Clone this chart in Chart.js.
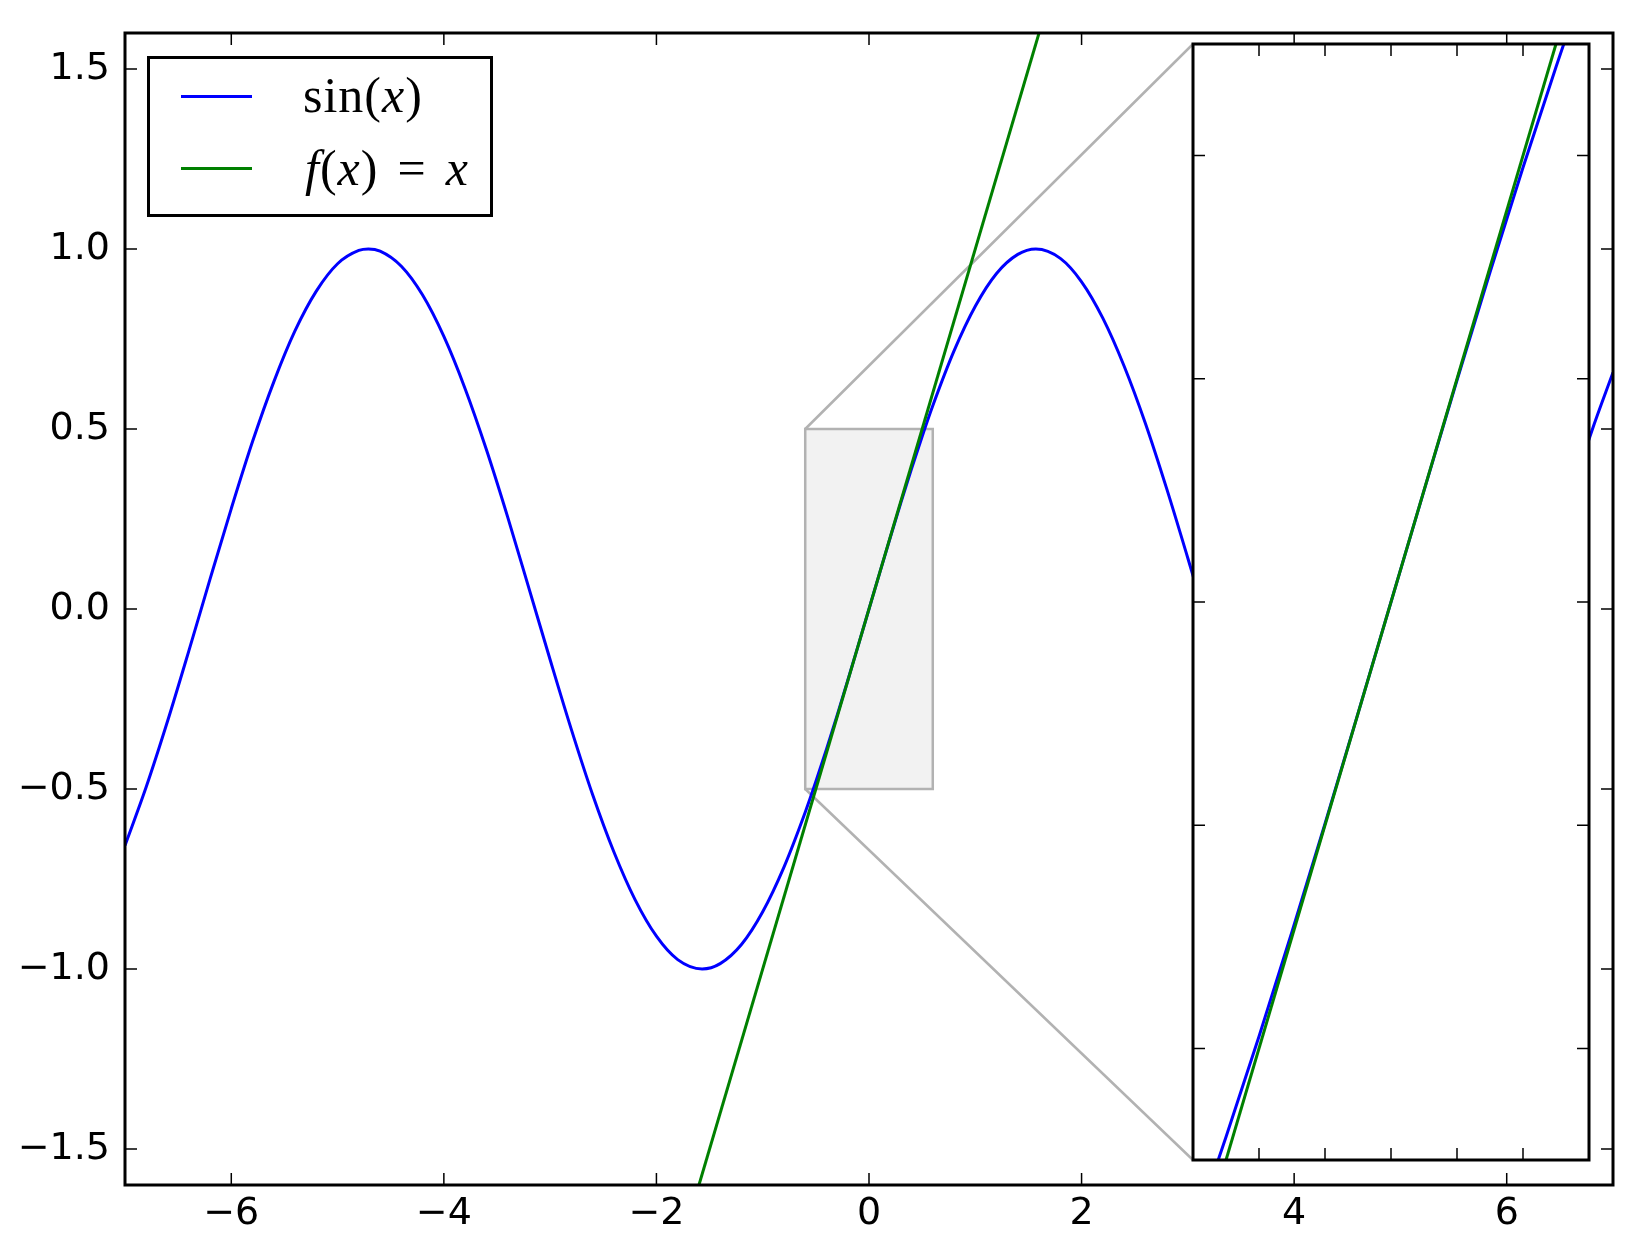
<!DOCTYPE html>
<html>
<head>
<meta charset="utf-8">
<script src="https://cdn.jsdelivr.net/npm/chart.js@4.4.1/dist/chart.umd.min.js"></script>
<style>
  body { margin: 0; background: #fff; }
  #wrap { position: relative; width: 1648px; height: 1240px; }
  #mainChart { position: absolute; left: 0; top: 0; }
  #insetChart { position: absolute; left: 1191px; top: 42px; }
  #legend {
    position: absolute; left: 147px; top: 56px; width: 346px; height: 161px;
    box-sizing: border-box; border: 3px solid #000; background: #fff;
  }
  .key { position: absolute; left: 31px; width: 71px; height: 3px; }
  .lbl {
    position: absolute; font-family: "Liberation Serif", serif; font-size: 50px;
    line-height: 50px; letter-spacing: 1px; white-space: nowrap; color: #000;
  }
  .eq { margin: 0 19px; }
</style>
</head>
<body>
<div id="wrap">
  <canvas id="mainChart" width="1648" height="1240"></canvas>
  <canvas id="insetChart" width="400" height="1120"></canvas>
  <div id="legend">
    <div class="key" style="top:35.5px;background:#0000ff"></div>
    <div class="lbl" style="left:153px;top:11px">sin(<i>x</i>)</div>
    <div class="key" style="top:107.5px;background:#008000"></div>
    <div class="lbl" style="left:155px;top:84px"><i>f</i>(<i>x</i>)<span class="eq">=</span><i>x</i></div>
  </div>
</div>
<script>
/*************************
 DATA
**************************/
// sin(x) (denser around the zoomed region)
const sinX = [
  -7.0, -6.8, -6.6, -6.4, -6.2, -6.0, -5.8, -5.6, -5.4, -5.2, -5.0, -4.8, -4.71, -4.6,
  -4.4, -4.2, -4.0, -3.8, -3.6, -3.4, -3.2, -3.0, -2.8, -2.6, -2.4, -2.2, -2.0, -1.8,
  -1.57, -1.4, -1.2, -1.0, -0.8, -0.6, -0.5, -0.4, -0.3, -0.2, -0.1, 0,
  0.1, 0.2, 0.3, 0.4, 0.5, 0.6, 0.8, 1.0, 1.2, 1.4, 1.57, 1.8, 2.0, 2.2, 2.4, 2.6,
  2.8, 3.0, 3.2, 3.4, 3.6, 3.8, 4.0, 4.2, 4.4, 4.6, 4.71, 4.8, 5.0, 5.2, 5.4, 5.6,
  5.8, 6.0, 6.2, 6.4, 6.6, 6.8, 7.0
];
const sinY = [
  -0.657, -0.494, -0.312, -0.117, 0.083, 0.279, 0.465, 0.631, 0.773, 0.883, 0.959, 0.996, 1.0, 0.994,
  0.952, 0.872, 0.757, 0.612, 0.443, 0.256, 0.058, -0.141, -0.335, -0.516, -0.675, -0.808, -0.909, -0.974,
  -1.0, -0.985, -0.932, -0.841, -0.717, -0.5646, -0.4794, -0.3894, -0.2955, -0.1987, -0.0998, 0,
  0.0998, 0.1987, 0.2955, 0.3894, 0.4794, 0.5646, 0.717, 0.841, 0.932, 0.985, 1.0, 0.974, 0.909, 0.808, 0.675, 0.516,
  0.335, 0.141, -0.058, -0.256, -0.443, -0.612, -0.757, -0.872, -0.952, -0.994, -1.0, -0.996, -0.959, -0.883, -0.773, -0.631,
  -0.465, -0.279, -0.083, 0.117, 0.312, 0.494, 0.657
];

// f(x) = x
const lineX = [-7, 7];
const lineY = [-7, 7];

// axis ranges and ticks
const xRange = [-7, 7];
const yRange = [-1.6, 1.6];
const xTicks = [-6, -4, -2, 0, 2, 4, 6];
const yTicks = [-1.5, -1.0, -0.5, 0.0, 0.5, 1.0, 1.5];

// zoomed inset
const zoomX = [-0.6, 0.6];
const zoomY = [-0.5, 0.5];
const insetXTicks = [-0.4, -0.2, 0, 0.2, 0.4];
const insetYTicks = [-0.4, -0.2, 0, 0.2, 0.4];

/*************************
 HELPERS
**************************/
const toPoints = (xs, ys) => xs.map((x, i) => ({ x: x, y: ys[i] }));
const minus = s => s.replace('-', '\u2212');

function makeDatasets() {
  return [
    { label: 'sin(x)', data: toPoints(sinX, sinY), showLine: true, borderColor: '#0000ff',
      borderWidth: 3, pointRadius: 0, cubicInterpolationMode: 'monotone', order: 2 },
    { label: 'f(x) = x', data: toPoints(lineX, lineY), showLine: true, borderColor: '#008000',
      borderWidth: 3, pointRadius: 0, order: 1 }
  ];
}

/*************************
 FRAME + INWARD TICKS
**************************/
const framePlugin = {
  id: 'frame',
  beforeDraw(chart) {
    const a = chart.chartArea, ctx = chart.ctx;
    ctx.save();
    ctx.fillStyle = '#fff';
    ctx.fillRect(a.left, a.top, a.width, a.height);
    ctx.restore();
  },
  afterDraw(chart, args, opts) {
    const a = chart.chartArea, ctx = chart.ctx, len = 12;
    ctx.save();
    ctx.strokeStyle = '#000';
    ctx.lineWidth = 1.5;
    ctx.beginPath();
    opts.xTicks.forEach(v => {
      const px = chart.scales.x.getPixelForValue(v);
      ctx.moveTo(px, a.bottom); ctx.lineTo(px, a.bottom - len);
      ctx.moveTo(px, a.top); ctx.lineTo(px, a.top + len);
    });
    opts.yTicks.forEach(v => {
      const py = chart.scales.y.getPixelForValue(v);
      ctx.moveTo(a.left, py); ctx.lineTo(a.left + len, py);
      ctx.moveTo(a.right, py); ctx.lineTo(a.right - len, py);
    });
    ctx.stroke();
    ctx.lineWidth = 3;
    ctx.strokeRect(a.left, a.top, a.width, a.height);
    ctx.restore();
  }
};

/*************************
 INSET CHART
**************************/
const insetCanvas = document.getElementById('insetChart');
const insetChart = new Chart(insetCanvas, {
  type: 'scatter',
  data: { datasets: makeDatasets() },
  options: {
    responsive: false, animation: false, events: [],
    layout: { padding: 2 },
    plugins: { legend: { display: false }, tooltip: { enabled: false },
               frame: { xTicks: insetXTicks, yTicks: insetYTicks } },
    scales: {
      x: { type: 'linear', display: false, min: zoomX[0], max: zoomX[1] },
      y: { type: 'linear', display: false, min: zoomY[0], max: zoomY[1] }
    }
  },
  plugins: [framePlugin]
});

/*************************
 ZOOM MARK (box + connectors)
**************************/
const zoomMarkPlugin = {
  id: 'zoomMark',
  beforeDatasetsDraw(chart) {
    const sx = chart.scales.x, sy = chart.scales.y, ctx = chart.ctx;
    const l = sx.getPixelForValue(zoomX[0]), r = sx.getPixelForValue(zoomX[1]);
    const t = sy.getPixelForValue(zoomY[1]), b = sy.getPixelForValue(zoomY[0]);

    const offL = insetCanvas.offsetLeft, offT = insetCanvas.offsetTop;
    const il = insetChart.scales.x.getPixelForValue(zoomX[0]) + offL;
    const it = insetChart.scales.y.getPixelForValue(zoomY[1]) + offT;
    const ib = insetChart.scales.y.getPixelForValue(zoomY[0]) + offT;

    ctx.save();
    ctx.fillStyle = '#f2f2f2';
    ctx.fillRect(l, t, r - l, b - t);
    ctx.strokeStyle = '#b2b2b2';
    ctx.lineWidth = 2.5;
    ctx.strokeRect(l, t, r - l, b - t);
    ctx.beginPath();
    ctx.moveTo(l, t); ctx.lineTo(il, it);
    ctx.moveTo(l, b); ctx.lineTo(il, ib);
    ctx.stroke();
    ctx.restore();
  }
};

/*************************
 MAIN CHART
**************************/
const tickFont = { family: 'DejaVu Sans', size: 38 };
const noPad = s => { s.paddingTop = 0; s.paddingBottom = 0; s.paddingLeft = 0; s.paddingRight = 0; };

const mainChart = new Chart(document.getElementById('mainChart'), {
  type: 'scatter',
  data: { datasets: makeDatasets() },
  options: {
    responsive: false, animation: false, events: [],
    layout: { padding: { top: 33, right: 35, left: 0, bottom: 0 } },
    plugins: { legend: { display: false }, tooltip: { enabled: false },
               frame: { xTicks: xTicks, yTicks: yTicks } },
    scales: {
      x: {
        type: 'linear', min: xRange[0], max: xRange[1],
        afterFit: s => { s.height = 55; noPad(s); },
        afterBuildTicks: s => { s.ticks = xTicks.map(v => ({ value: v })); },
        grid: { display: false, drawTicks: false },
        border: { display: false },
        ticks: { font: tickFont, color: '#000', padding: 6, maxRotation: 0,
                 callback: v => minus(String(v)) }
      },
      y: {
        type: 'linear', min: yRange[0], max: yRange[1],
        afterFit: s => { s.width = 125; noPad(s); },
        afterBuildTicks: s => { s.ticks = yTicks.map(v => ({ value: v })); },
        grid: { display: false, drawTicks: false },
        border: { display: false },
        ticks: { font: tickFont, color: '#000', padding: 15,
                 callback: v => minus(Number(v).toFixed(1)) }
      }
    }
  },
  plugins: [zoomMarkPlugin, framePlugin]
});
</script>
</body>
</html>
